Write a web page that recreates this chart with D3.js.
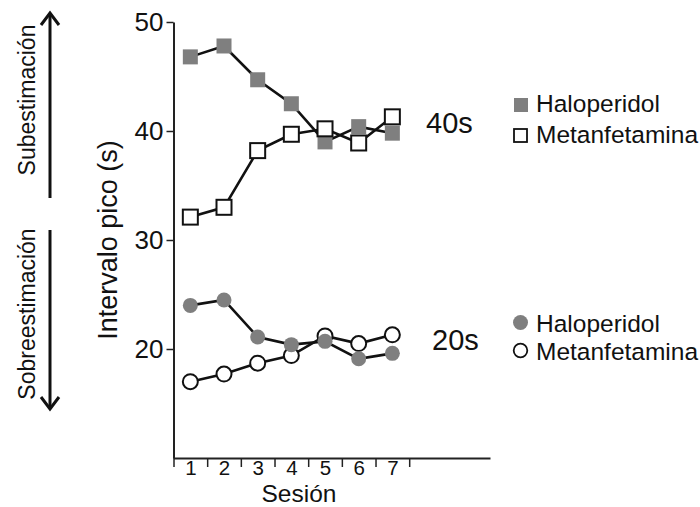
<!DOCTYPE html>
<html>
<head>
<meta charset="utf-8">
<script src="https://cdn.jsdelivr.net/npm/d3@7/dist/d3.min.js"></script>
<style>
  html, body { margin: 0; padding: 0; background: #fff; }
  svg { display: block; font-family: "Liberation Sans", Arial, Helvetica, sans-serif; }
</style>
</head>
<body>
<svg id="chart" width="700" height="507"></svg>
<script>
// Sessions and peak-interval values (s) for each drug at the 40 s and 20 s criteria
const sessions = [1, 2, 3, 4, 5, 6, 7];
const halo40 = [46.8, 47.8, 44.7, 42.5, 39.0, 40.4, 39.8];
const meth40 = [32.1, 33.0, 38.2, 39.7, 40.2, 38.9, 41.3];
const halo20 = [24.0, 24.5, 21.1, 20.4, 20.7, 19.1, 19.6];
const meth20 = [17.0, 17.7, 18.7, 19.4, 21.2, 20.5, 21.3];
const yTicks = [20, 30, 40, 50];
const sessionBounds = [0.5, 1.5, 2.5, 3.5, 4.5, 5.5, 6.5, 7.5];

const GRAY = "#7f7f7f";
const svg = d3.select("#chart");

const x = d3.scaleLinear().domain([0.5, 9.9]).range([173.5, 490]);
const y = d3.scaleLinear().domain([10, 50]).range([458, 22]);

// Axes
const yAxis = svg.append("g")
  .attr("transform", "translate(173.5,0)")
  .call(d3.axisLeft(y).tickValues(yTicks).tickSize(7).tickSizeOuter(0).tickPadding(3));
yAxis.select(".domain").attr("stroke", "#222").attr("stroke-width", 2);
yAxis.selectAll(".tick line").attr("stroke", "#222").attr("stroke-width", 1.5);
yAxis.selectAll(".tick text").attr("font-size", 26).attr("fill", "#111")
  .attr("font-family", "Liberation Sans, Arial, sans-serif");

const xAxis = svg.append("g")
  .attr("transform", "translate(0,458)")
  .call(d3.axisBottom(x).tickValues(sessionBounds).tickFormat("").tickSize(9).tickSizeOuter(0));
xAxis.select(".domain").attr("stroke", "#222").attr("stroke-width", 2);
xAxis.selectAll(".tick line").attr("stroke", "#222").attr("stroke-width", 1.5);

const xLabels = svg.append("g")
  .attr("transform", "translate(0,458)")
  .call(d3.axisBottom(x).tickValues(sessions).tickSize(0).tickPadding(2.5).tickFormat(d3.format("d")));
xLabels.select(".domain").remove();
xLabels.selectAll(".tick text").attr("font-size", 20.5).attr("fill", "#111")
  .attr("font-family", "Liberation Sans, Arial, sans-serif");

// Axis titles
svg.append("text")
  .attr("x", 299).attr("y", 501.5)
  .attr("text-anchor", "middle").attr("font-size", 24.5).attr("fill", "#111")
  .text("Sesión");
svg.append("text")
  .attr("transform", "translate(117,240) rotate(-90)")
  .attr("text-anchor", "middle").attr("font-size", 27).attr("fill", "#111")
  .text("Intervalo pico (s)");

// Side annotations with arrows
svg.append("text")
  .attr("transform", "translate(35,100) rotate(-90)")
  .attr("text-anchor", "middle").attr("font-size", 23).attr("fill", "#111")
  .text("Subestimación");
svg.append("text")
  .attr("transform", "translate(35,314) rotate(-90)")
  .attr("text-anchor", "middle").attr("font-size", 23).attr("fill", "#111")
  .text("Sobreestimación");

const arrows = svg.append("g").attr("stroke", "#111").attr("stroke-width", 3)
  .attr("fill", "none").attr("stroke-linecap", "butt");
arrows.append("line").attr("x1", 50).attr("x2", 50).attr("y1", 198).attr("y2", 13);
arrows.append("polyline").attr("points", "41,25 50,13 59,25").attr("stroke-linejoin", "miter");
arrows.append("line").attr("x1", 50).attr("x2", 50).attr("y1", 230).attr("y2", 409);
arrows.append("polyline").attr("points", "41,397 50,409 59,397").attr("stroke-linejoin", "miter");

// Series
const line = d3.line().x((d, i) => x(sessions[i])).y(d => y(d));
const SQ = 15, R = 7.5;

function drawLine(vals) {
  svg.append("path").datum(vals).attr("d", line)
    .attr("fill", "none").attr("stroke", "#111").attr("stroke-width", 2.6);
}
[halo40, meth40, halo20, meth20].forEach(drawLine);

function drawSquares(vals, filled) {
  svg.append("g").selectAll("rect").data(vals).join("rect")
    .attr("x", (d, i) => x(sessions[i]) - SQ / 2)
    .attr("y", d => y(d) - SQ / 2)
    .attr("width", SQ).attr("height", SQ)
    .attr("fill", filled ? GRAY : "#fff")
    .attr("stroke", filled ? "none" : "#111")
    .attr("stroke-width", filled ? 0 : 2);
}
function drawCircles(vals, filled) {
  svg.append("g").selectAll("circle").data(vals).join("circle")
    .attr("cx", (d, i) => x(sessions[i]))
    .attr("cy", d => y(d))
    .attr("r", R)
    .attr("fill", filled ? GRAY : "#fff")
    .attr("stroke", filled ? "none" : "#111")
    .attr("stroke-width", filled ? 0 : 2);
}
drawSquares(halo40, true);
drawSquares(meth40, false);
drawCircles(meth20, false);
drawCircles(halo20, true);

// Criterion labels and legends
svg.append("text").attr("x", 426).attr("y", 133).attr("font-size", 29).attr("fill", "#111").text("40s");
svg.append("text").attr("x", 432).attr("y", 350).attr("font-size", 29).attr("fill", "#111").text("20s");

const legend = svg.append("g").attr("font-size", 24.5).attr("fill", "#111");
legend.append("rect").attr("x", 514).attr("y", 98).attr("width", 14).attr("height", 14).attr("fill", GRAY);
legend.append("text").attr("x", 536).attr("y", 112).text("Haloperidol");
legend.append("rect").attr("x", 514).attr("y", 129).attr("width", 13).attr("height", 13)
  .attr("fill", "#fff").attr("stroke", "#111").attr("stroke-width", 1.8);
legend.append("text").attr("x", 536).attr("y", 143).text("Metanfetamina");

legend.append("circle").attr("cx", 520.5).attr("cy", 322.5).attr("r", 7.5).attr("fill", GRAY);
legend.append("text").attr("x", 536).attr("y", 332).text("Haloperidol");
legend.append("circle").attr("cx", 520.5).attr("cy", 350.5).attr("r", 6.8)
  .attr("fill", "#fff").attr("stroke", "#111").attr("stroke-width", 1.8);
legend.append("text").attr("x", 536).attr("y", 360).text("Metanfetamina");
</script>
</body>
</html>
